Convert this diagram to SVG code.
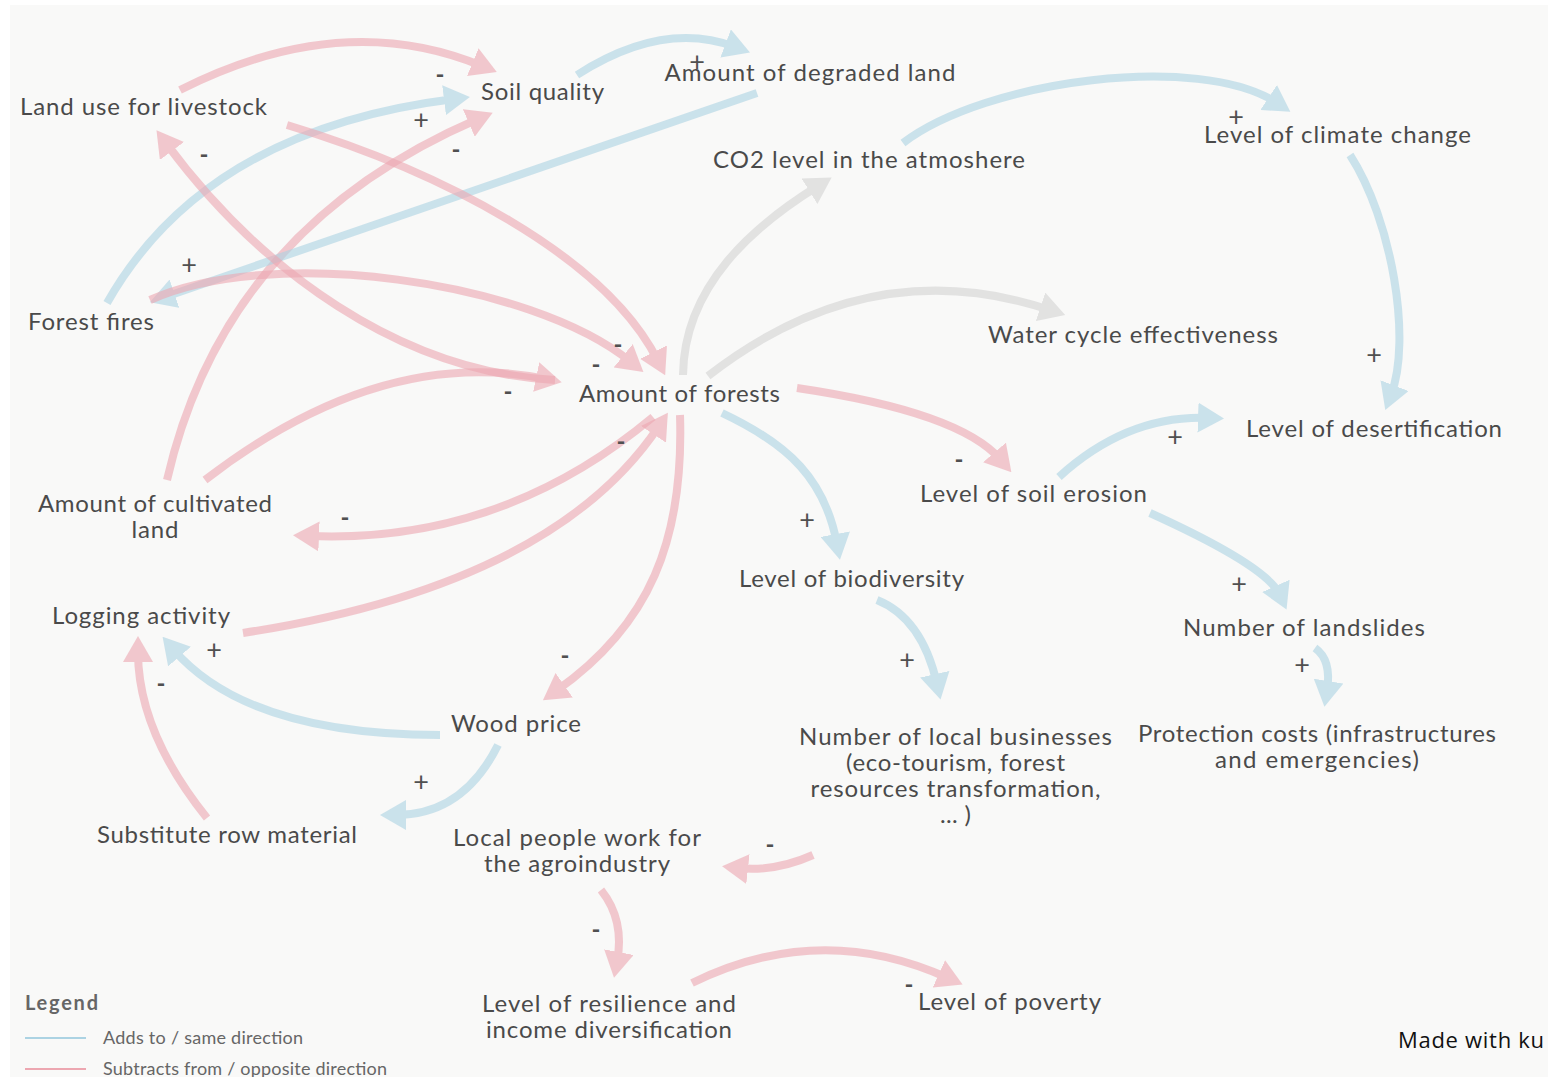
<svg xmlns="http://www.w3.org/2000/svg" width="1548" height="1077" viewBox="0 0 1548 1077">
<style>
.n text{font-family:Lato,"Open Sans","Liberation Sans",sans-serif;font-size:24px;fill:#4a4a4a;text-anchor:middle}
.lb text{font-family:Lato,"Liberation Sans",sans-serif;font-size:27px;fill:#505050;text-anchor:middle}
.lb .m{font-weight:bold;font-size:24px}
.p{opacity:.6}
.p path{fill:none;stroke:#eda7b1;stroke-width:8;marker-end:url(#mp)}
.b{opacity:.6}
.b path{fill:none;stroke:#acd3e3;stroke-width:8;marker-end:url(#mb)}
.g{opacity:.6}
.g path{fill:none;stroke:#d3d3d3;stroke-width:8;marker-end:url(#mg)}
.leg text{font-family:Lato,"Liberation Sans",sans-serif;fill:#666}
</style>
<defs>
<marker id="mp" viewBox="0 0 26 30" refX="10" refY="15" markerWidth="26" markerHeight="30" markerUnits="userSpaceOnUse" orient="auto"><path d="M0,0 L26,15 L0,30 z" fill="#eda7b1"/></marker>
<marker id="mb" viewBox="0 0 26 30" refX="10" refY="15" markerWidth="26" markerHeight="30" markerUnits="userSpaceOnUse" orient="auto"><path d="M0,0 L26,15 L0,30 z" fill="#acd3e3"/></marker>
<marker id="mg" viewBox="0 0 26 30" refX="10" refY="15" markerWidth="26" markerHeight="30" markerUnits="userSpaceOnUse" orient="auto"><path d="M0,0 L26,15 L0,30 z" fill="#d3d3d3"/></marker>
</defs>
<rect x="0" y="0" width="1548" height="1077" fill="#ffffff"/>
<rect x="10" y="5" width="1538" height="1072" fill="#f9f9f8"/>
<g id="connectors">
<g class="p"><path d="M180,90 Q342,8 482,66"/></g>
<g class="b"><path d="M107,303 Q205,130 454,99"/></g>
<g class="p"><path d="M167,480 Q225,228 478,119"/></g>
<g class="b"><path d="M577,75 Q663,20 735,47"/></g>
<g class="b"><path d="M757,93 L165,297"/></g>
<g class="p"><path d="M287,125 C437,170 605,255 658,361"/></g>
<g class="p"><path d="M150,300 C270,245 530,280 631,362"/></g>
<g class="p"><path d="M205,480 Q380,345 546,379"/></g>
<g class="p"><path d="M555,380 C400,372 260,270 166,143"/></g>
<g class="p"><path d="M653,417 Q501,544 309,536"/></g>
<g class="p"><path d="M243,633 Q553,585 659,426"/></g>
<g class="p"><path d="M680,415 C684,540 650,625 556,691"/></g>
<g class="b"><path d="M440,735 Q247,735 173,649"/></g>
<g class="p"><path d="M207,818 Q138,732 138,652"/></g>
<g class="b"><path d="M498,745 Q463,815 396,815"/></g>
<g class="g"><path d="M683,375 C684,285 755,225 818,186"/></g>
<g class="g"><path d="M708,376 Q870,250 1050,310"/></g>
<g class="b"><path d="M903,143 C985,80 1200,52 1277,103"/></g>
<g class="b"><path d="M1350,155 C1392,220 1412,340 1391,395"/></g>
<g class="p"><path d="M797,388 Q960,412 1001,460"/></g>
<g class="b"><path d="M722,413 C790,445 825,480 837,544"/></g>
<g class="b"><path d="M1059,477 Q1127,415 1208,418"/></g>
<g class="b"><path d="M1150,513 Q1267,566 1280,595"/></g>
<g class="b"><path d="M877,600 Q922,618 937,684"/></g>
<g class="b"><path d="M1315,648 Q1332,660 1327,691"/></g>
<g class="p"><path d="M813,855 Q775,872 738,868"/></g>
<g class="p"><path d="M601,890 Q625,920 617,962"/></g>
<g class="p"><path d="M692,983 Q820,920 948,978"/></g>
</g>
<g class="lb" id="labels">
<text class="m" x="440" y="83">-</text>
<text x="421" y="129">+</text>
<text class="m" x="456" y="158">-</text>
<text x="697" y="71">+</text>
<text x="189" y="274">+</text>
<text class="m" x="618" y="353">-</text>
<text class="m" x="596" y="373">-</text>
<text class="m" x="508" y="400">-</text>
<text class="m" x="204" y="163">-</text>
<text class="m" x="345" y="526">-</text>
<text class="m" x="621" y="450">-</text>
<text class="m" x="565" y="664">-</text>
<text x="214" y="659">+</text>
<text class="m" x="161" y="692">-</text>
<text x="421" y="791">+</text>
<text x="1236" y="126">+</text>
<text x="1374" y="364">+</text>
<text class="m" x="959" y="468">-</text>
<text x="807" y="529">+</text>
<text x="1175" y="446">+</text>
<text x="1239" y="593">+</text>
<text x="907" y="669">+</text>
<text x="1302" y="674">+</text>
<text class="m" x="770" y="853">-</text>
<text class="m" x="596" y="938">-</text>
<text class="m" x="909" y="993">-</text>
</g>
<g class="n">
<g id="n-landuse"><text x="143.5" y="115" textLength="247">Land use for livestock</text></g>
<g id="n-soil"><text x="542.5" y="100" textLength="123">Soil quality</text></g>
<g id="n-degraded"><text x="810" y="81" textLength="291">Amount of degraded land</text></g>
<g id="n-co2"><text x="869" y="168" textLength="312">CO2 level in the atmoshere</text></g>
<g id="n-climate"><text x="1337.5" y="143" textLength="267">Level of climate change</text></g>
<g id="n-fires"><text x="91" y="330" textLength="126">Forest fires</text></g>
<g id="n-water"><text x="1133" y="343" textLength="290">Water cycle effectiveness</text></g>
<g id="n-forests"><text x="679.5" y="402" textLength="201">Amount of forests</text></g>
<g id="n-desert"><text x="1374" y="437" textLength="256">Level of desertification</text></g>
<g id="n-erosion"><text x="1033.5" y="502" textLength="227">Level of soil erosion</text></g>
<g id="n-cultivated"><text x="155" y="512" textLength="234">Amount of cultivated</text><text x="155" y="538" textLength="47">land</text></g>
<g id="n-biodiv"><text x="851.5" y="587" textLength="225">Level of biodiversity</text></g>
<g id="n-logging"><text x="141" y="624" textLength="178">Logging activity</text></g>
<g id="n-landslides"><text x="1304" y="636" textLength="242">Number of landslides</text></g>
<g id="n-wood"><text x="516" y="732" textLength="130">Wood price</text></g>
<g id="n-business"><text x="955.5" y="745" textLength="313">Number of local businesses</text><text x="955.5" y="771" textLength="219">(eco-tourism, forest</text><text x="955.5" y="797" textLength="290">resources transformation,</text><text x="955.5" y="823" textLength="31">... )</text></g>
<g id="n-protection"><text x="1317" y="742" textLength="358">Protection costs (infrastructures</text><text x="1317" y="768" textLength="204">and emergencies)</text></g>
<g id="n-substitute"><text x="227" y="843" textLength="260">Substitute row material</text></g>
<g id="n-people"><text x="577" y="846" textLength="248">Local people work for</text><text x="577" y="872" textLength="186">the agroindustry</text></g>
<g id="n-resilience"><text x="609" y="1012" textLength="254">Level of resilience and</text><text x="609" y="1038" textLength="246">income diversification</text></g>
<g id="n-poverty"><text x="1009.5" y="1010" textLength="183">Level of poverty</text></g>
</g>
<g class="leg" id="legend">
<text x="25" y="1010" font-size="20" font-weight="bold" fill="#555" textLength="73">Legend</text>
<line x1="25" y1="1038" x2="86" y2="1038" stroke="#acd3e3" stroke-width="2"/>
<text x="103" y="1044" font-size="18" textLength="200">Adds to / same direction</text>
<line x1="25" y1="1069" x2="86" y2="1069" stroke="#eda7b1" stroke-width="2"/>
<text x="103" y="1075" font-size="18" textLength="284">Subtracts from / opposite direction</text>
</g>
<text x="1398" y="1048" font-family="'Open Sans','Liberation Sans',sans-serif" font-size="22" fill="#111" textLength="146">Made with ku</text>
</svg>
